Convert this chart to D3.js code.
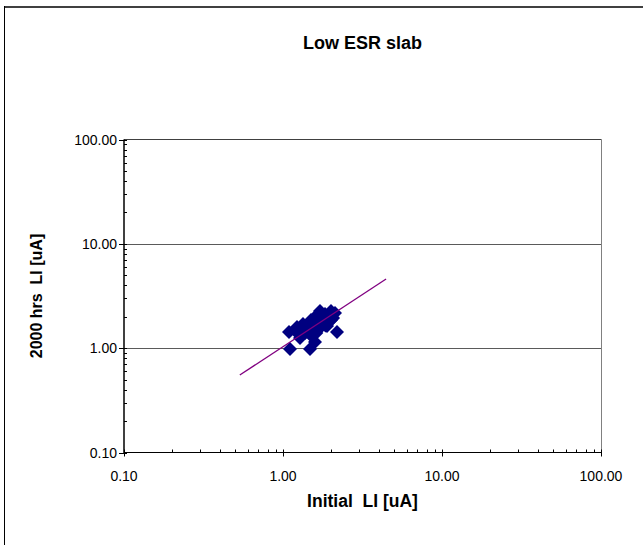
<!DOCTYPE html>
<html>
<head>
<meta charset="utf-8">
<script src="https://cdnjs.cloudflare.com/ajax/libs/d3/7.8.5/d3.min.js"></script>
<style>
  html, body { margin: 0; padding: 0; background: #fff; }
  svg { display: block; font-family: "Liberation Sans", Arial, sans-serif; }
</style>
</head>
<body>
<svg id="chart" width="643" height="545"></svg>
<script>
// Leakage current: initial reading vs. reading after 2000 hours
const initialLI = [1.107, 1.479, 1.091, 1.225, 1.336, 1.375, 1.500, 1.613, 1.709, 1.837,
                   2.004, 2.124, 2.186, 1.891, 1.660, 1.522, 1.759, 1.975, 1.279, 1.589,
                   1.437, 1.864, 2.064, 1.200, 1.300, 1.420, 1.550, 1.680, 1.780, 1.920,
                   1.700, 1.620, 1.500, 1.850, 2.000];
const after2000LI = [0.982, 0.982, 1.430, 1.597, 1.706, 1.399, 1.864, 2.035, 2.274, 2.127,
                     2.274, 2.175, 1.430, 1.632, 1.562, 1.339, 1.864, 1.949, 1.253, 1.147,
                     1.632, 1.783, 1.949, 1.450, 1.550, 1.500, 1.700, 1.780, 1.900, 2.050,
                     1.550, 1.400, 1.320, 1.650, 1.850];
// Power trend line end points
const trendX = [0.535, 4.45];
const trendY = [0.553, 4.6];
// Axis decades
const tickValues = [0.1, 1, 10, 100];
const tickLabels = ["0.10", "1.00", "10.00", "100.00"];
const gridValues = [1, 10];

const svg = d3.select("#chart");
const plot = { left: 124, right: 601, top: 139.5, bottom: 452.5 };

const x = d3.scaleLog().domain([0.1, 100]).range([plot.left, plot.right]);
const y = d3.scaleLog().domain([0.1, 100]).range([plot.bottom, plot.top]);

// outer frame (top and left edges)
svg.append("line").attr("x1", 4).attr("x2", 643).attr("y1", 7).attr("y2", 7)
  .attr("stroke", "#404040").attr("stroke-width", 2);
svg.append("line").attr("x1", 4.5).attr("x2", 4.5).attr("y1", 6).attr("y2", 545)
  .attr("stroke", "#000").attr("stroke-width", 1);

// title
svg.append("text").attr("x", (plot.left + plot.right) / 2).attr("y", 49)
  .attr("text-anchor", "middle").attr("font-size", 18).attr("font-weight", "bold")
  .text("Low ESR slab");

// horizontal gridlines
svg.append("g").selectAll("line").data(gridValues).join("line")
  .attr("x1", plot.left).attr("x2", plot.right)
  .attr("y1", d => Math.round(y(d)) + 0.5).attr("y2", d => Math.round(y(d)) + 0.5)
  .attr("stroke", "#5a5a5a").attr("stroke-width", 1);

// plot frame: top and right edges
svg.append("line").attr("x1", plot.left).attr("x2", plot.right + 0.5)
  .attr("y1", plot.top).attr("y2", plot.top).attr("stroke", "#404040");
svg.append("line").attr("x1", plot.right + 0.5).attr("x2", plot.right + 0.5)
  .attr("y1", plot.top).attr("y2", plot.bottom).attr("stroke", "#808080");

// minor tick values for each decade
const minors = [];
[0.1, 1, 10].forEach(dec => { for (let k = 2; k <= 9; k++) minors.push(dec * k); });

// x axis
const gx = svg.append("g").attr("transform", `translate(0,${plot.bottom})`);
gx.append("line").attr("x1", plot.left).attr("x2", plot.right + 0.5).attr("stroke", "#000");
gx.selectAll(".minor").data(minors).join("line").attr("class", "minor")
  .attr("x1", d => Math.round(x(d)) + 0.5).attr("x2", d => Math.round(x(d)) + 0.5)
  .attr("y1", 0).attr("y2", -3).attr("stroke", "#000");
gx.selectAll(".major").data(tickValues).join("line").attr("class", "major")
  .attr("x1", d => Math.round(x(d)) + 0.5).attr("x2", d => Math.round(x(d)) + 0.5)
  .attr("y1", -3).attr("y2", 4).attr("stroke", "#000");
gx.selectAll("text").data(tickValues).join("text")
  .attr("x", d => x(d)).attr("y", 28).attr("text-anchor", "middle")
  .attr("font-size", 14).text((d, i) => tickLabels[i]);

// y axis
const gy = svg.append("g").attr("transform", `translate(${plot.left},0)`);
gy.append("line").attr("y1", plot.top).attr("y2", plot.bottom + 0.5)
  .attr("stroke", "#000").attr("stroke-width", 1.5);
gy.selectAll(".minor").data(minors).join("line").attr("class", "minor")
  .attr("y1", d => Math.round(y(d)) + 0.5).attr("y2", d => Math.round(y(d)) + 0.5)
  .attr("x1", 0).attr("x2", 3).attr("stroke", "#000");
gy.selectAll(".major").data(tickValues).join("line").attr("class", "major")
  .attr("y1", d => Math.round(y(d)) + 0.5).attr("y2", d => Math.round(y(d)) + 0.5)
  .attr("x1", -5).attr("x2", 3).attr("stroke", "#000");
gy.selectAll("text").data(tickValues).join("text")
  .attr("x", -7).attr("y", d => y(d) + 5).attr("text-anchor", "end")
  .attr("font-size", 14).text((d, i) => tickLabels[i]);

// axis titles
svg.append("text").attr("x", (plot.left + plot.right) / 2).attr("y", 507)
  .attr("text-anchor", "middle").attr("font-size", 17.5).attr("font-weight", "bold")
  .style("white-space", "pre")
  .text("Initial  LI [uA]");
svg.append("text")
  .attr("transform", `translate(42,${(plot.top + plot.bottom) / 2}) rotate(-90)`)
  .attr("text-anchor", "middle").attr("font-size", 16).attr("font-weight", "bold")
  .style("white-space", "pre")
  .text("2000 hrs  LI [uA]");

// data points
const pts = initialLI.map((v, i) => [v, after2000LI[i]]);
const diamond = d3.symbol().type(d3.symbolSquare).size(98);
svg.append("g").selectAll("path").data(pts).join("path")
  .attr("d", diamond)
  .attr("transform", d => `translate(${x(d[0])},${y(d[1])}) rotate(45)`)
  .attr("fill", "#000080");

// trend line
svg.append("line")
  .attr("x1", x(trendX[0])).attr("y1", y(trendY[0]))
  .attr("x2", x(trendX[1])).attr("y2", y(trendY[1]))
  .attr("stroke", "#800080").attr("stroke-width", 1.3);
</script>
</body>
</html>
